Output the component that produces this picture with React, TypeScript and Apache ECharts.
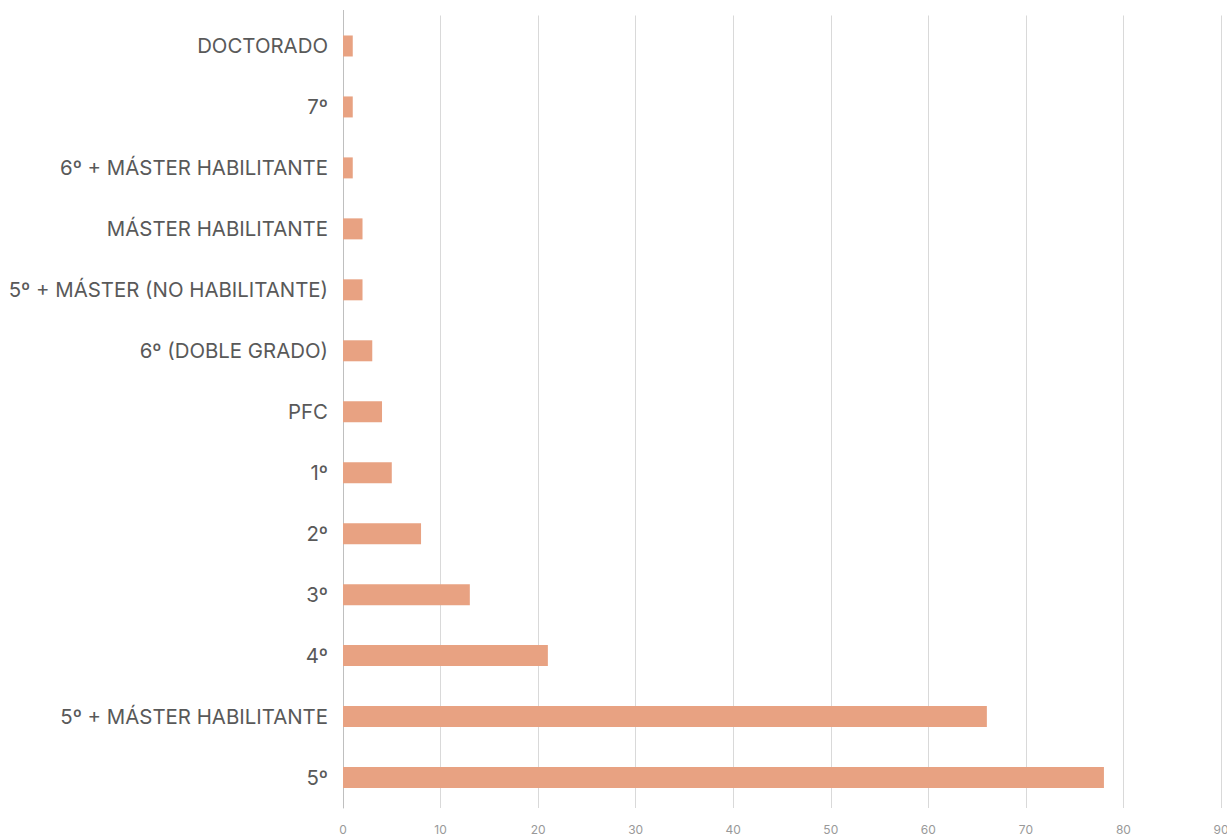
import React, { useEffect, useRef } from "react";
import * as echarts from "echarts";

const categories = [
  "5º",
  "5º + MÁSTER HABILITANTE",
  "4º",
  "3º",
  "2º",
  "1º",
  "PFC",
  "6º (DOBLE GRADO)",
  "5º + MÁSTER (NO HABILITANTE)",
  "MÁSTER HABILITANTE",
  "6º + MÁSTER HABILITANTE",
  "7º",
  "DOCTORADO",
];
const values = [78, 66, 21, 13, 8, 5, 4, 3, 2, 2, 1, 1, 1];
const xTicks = { min: 0, max: 90, interval: 10 };

export default function App() {
  const ref = useRef<HTMLDivElement>(null);
  useEffect(() => {
    if (!ref.current) return;
    const chart = echarts.init(ref.current, undefined, { renderer: "svg" });
    chart.setOption({
      animation: false,
      grid: { left: 343, right: 6, top: 15.5, bottom: 28, containLabel: false, outerBoundsMode: "none" },
      xAxis: {
        type: "value",
        min: xTicks.min,
        max: xTicks.max,
        interval: xTicks.interval,
        axisLine: { show: false },
        axisTick: { show: false },
        splitLine: { lineStyle: { color: "#d9d9d9", width: 1 } },
        axisLabel: { color: "#999999", fontSize: 12, fontFamily: "Inter", margin: 15 },
      },
      yAxis: {
        type: "category",
        data: categories,
        axisLine: { lineStyle: { color: "#bfbfbf", width: 1 } },
        axisTick: { show: false },
        axisLabel: { color: "#595959", fontSize: 20.4, fontFamily: "Inter", margin: 15 },
      },
      graphic: [
        {
          type: "line",
          shape: { x1: 343.5, y1: 10, x2: 343.5, y2: 16 },
          style: { stroke: "#bfbfbf", lineWidth: 1 },
        },
      ],
      series: [
        {
          type: "bar",
          data: values,
          barWidth: 21,
          itemStyle: { color: "#e8a282" },
        },
      ],
    });
    return () => chart.dispose();
  }, []);
  return (
    <div
      ref={ref}
      style={{ position: "absolute", left: 0, top: 0, width: 1227, height: 836, background: "#fff" }}
    />
  );
}
